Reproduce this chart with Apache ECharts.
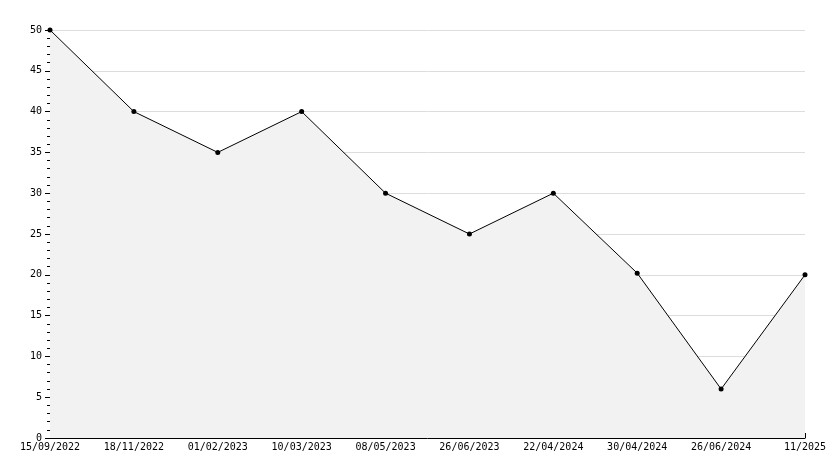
<!DOCTYPE html>
<html><head><meta charset="utf-8">
<script src="https://cdn.jsdelivr.net/npm/echarts@6/dist/echarts.min.js"></script>
<style>html,body{margin:0;padding:0;background:#fff}#c{width:834px;height:468px}</style>
</head><body><div id="c"></div>
<script>
var dates = ['15/09/2022','18/11/2022','01/02/2023','10/03/2023','08/05/2023','26/06/2023','22/04/2024','30/04/2024','26/06/2024','11/2025'];
var values = [50, 40, 35, 40, 30, 25, 30, 20.2, 6, 20];

var chart = echarts.init(document.getElementById('c'));
var font = 'DejaVu Sans Mono';
chart.setOption({
  animation: false,
  grid: { left: 50, right: 29, top: 30, bottom: 30 },
  xAxis: {
    type: 'category', data: dates, boundaryGap: false,
    axisLine: { lineStyle: { color: '#000' } },
    axisTick: { inside: true, length: 5, alignWithLabel: true, lineStyle: { color: '#000' } },
    axisLabel: { color: '#000', fontFamily: font, fontSize: 10, margin: 4, interval: 0 },
    splitLine: { show: false }
  },
  yAxis: {
    type: 'value', min: 0, max: 50, interval: 5,
    axisLine: { show: true, lineStyle: { color: '#000' } },
    axisTick: { show: true, length: 5, lineStyle: { color: '#000' } },
    minorTick: { show: true, splitNumber: 5, length: 3, lineStyle: { color: '#000' } },
    axisLabel: { color: '#000', fontFamily: font, fontSize: 10, margin: 8 },
    splitLine: { lineStyle: { color: '#dddddd' } }
  },
  series: [{
    type: 'line', data: values,
    symbol: 'circle', symbolSize: 5,
    itemStyle: { color: '#000' },
    lineStyle: { color: '#000', width: 1 },
    areaStyle: { color: '#f2f2f2', opacity: 1 }
  }]
});
</script></body></html>
